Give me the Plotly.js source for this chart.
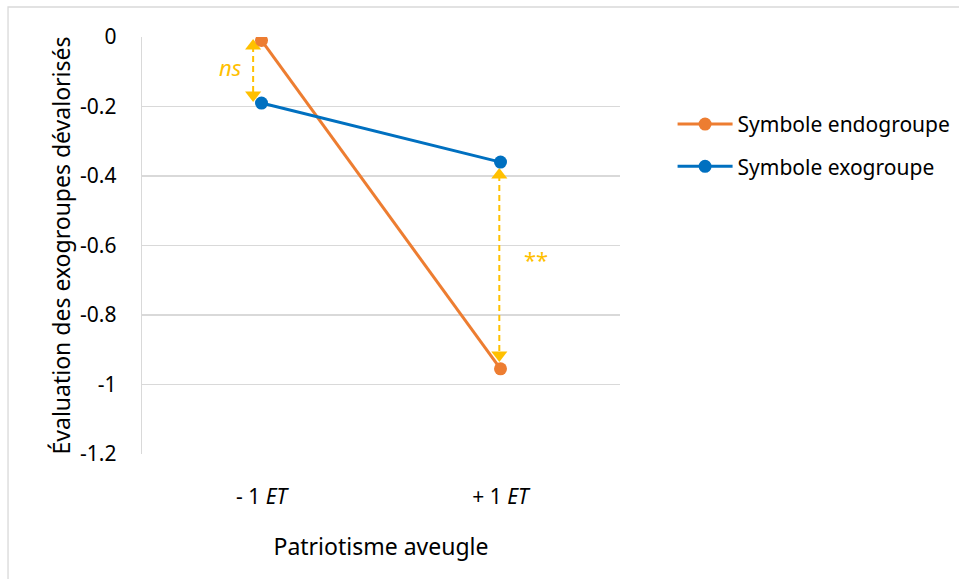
<!DOCTYPE html>
<html><head><meta charset="utf-8">
<script src="https://cdn.plot.ly/plotly-3.0.1.min.js"></script>
<style>html,body{margin:0;padding:0;background:#fff}#c{width:959px;height:579px}</style>
</head><body><div id="c"></div>
<script>
const categories = ['- 1 <i>ET</i>', '+ 1 <i>ET</i>'];
const catIndex = [0, 1];
const endogroupe = [-0.01, -0.955];
const exogroupe = [-0.19, -0.36];
const seriesNames = ['Symbole endogroupe', 'Symbole exogroupe'];
const yTicks = [0, -0.2, -0.4, -0.6, -0.8, -1, -1.2];
const yTickText = ['0', '-0.2', '-0.4', '-0.6', '-0.8', '-1', '-1.2'];
// significance arrows: [top, bottom] values
const arrowNs = [-0.026, -0.167];
const arrowSig = [-0.397, -0.915];
const sigLabels = ['<i>ns</i>', '**'];

const F = '"Noto Sans", "Open Sans", sans-serif';
const gold = '#FFC000';

function arrowTrace(xv, ys) {
  return {
    x: [xv, xv], y: ys, mode: 'lines+markers', showlegend: false, hoverinfo: 'skip',
    line: {color: gold, width: 2, dash: '6px,4px'},
    marker: {color: gold, size: 14, symbol: ['triangle-up', 'triangle-down']}
  };
}

const data = [
  arrowTrace(catIndex[0] - 0.035, arrowNs),
  arrowTrace(catIndex[1] - 0.005, arrowSig),
  {x: catIndex, y: endogroupe, name: seriesNames[0], mode: 'lines+markers', legendgroup: 'a',
   line: {color: '#ED7D31', width: 3}, marker: {color: '#ED7D31', size: 13}},
  {x: catIndex, y: exogroupe, name: seriesNames[1], mode: 'lines+markers', legendgroup: 'b',
   line: {color: '#0070C0', width: 3}, marker: {color: '#0070C0', size: 13}}
];

const layout = {
  width: 959, height: 579,
  margin: {l: 142, r: 339, t: 37, b: 125, autoexpand: false},
  paper_bgcolor: '#fff', plot_bgcolor: '#fff',
  font: {family: F, size: 21, color: '#000'},
  showlegend: true,
  legend: {x: 1.11, y: 0.74, xanchor: 'left', yanchor: 'middle', traceorder: 'grouped',
           tracegroupgap: 12, font: {size: 21, family: F}, itemwidth: 55, bgcolor: 'rgba(0,0,0,0)'},
  xaxis: {range: [-0.5, 1.5], tickvals: catIndex, ticktext: categories, showgrid: false,
          zeroline: false, showline: false, ticks: '', ticklabelstandoff: 28,
          title: {text: 'Patriotisme aveugle', font: {size: 23}, standoff: 29}, fixedrange: true},
  yaxis: {range: [-1.2, 0], tickvals: yTicks, ticktext: yTickText, showgrid: true,
          gridcolor: '#d9d9d9', gridwidth: 1.3, zeroline: false, showline: true, linecolor: '#d9d9d9',
          linewidth: 1.3, ticks: '', ticklabelstandoff: 20,
          title: {text: 'Évaluation des exogroupes dévalorisés', font: {size: 23}, standoff: 3}},
  annotations: [
    {x: catIndex[0] - 0.13, y: -0.085, xref: 'x', yref: 'y', text: sigLabels[0], showarrow: false,
     font: {color: gold, size: 22, family: F}},
    {x: catIndex[1] + 0.15, y: -0.64, xref: 'x', yref: 'y', text: sigLabels[1], showarrow: false,
     font: {color: gold, size: 22, family: F}}
  ],
  shapes: [
    {type: 'rect', xref: 'paper', yref: 'paper', x0: -0.2803, x1: 1.72, y0: -0.31, y1: 1.072,
     line: {color: '#d9d9d9', width: 1.3}, fillcolor: 'rgba(0,0,0,0)'}
  ]
};

Plotly.newPlot('c', data, layout, {staticPlot: true, displayModeBar: false});
</script></body></html>
